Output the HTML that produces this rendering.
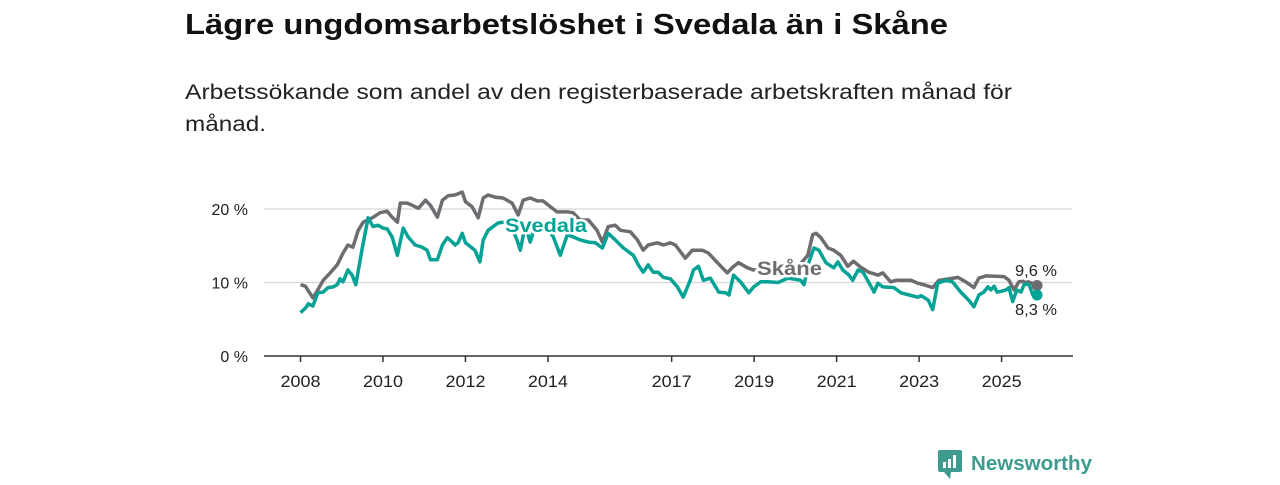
<!DOCTYPE html>
<html><head><meta charset="utf-8"><style>
body{margin:0;background:#fff;width:1280px;height:480px;overflow:hidden;font-family:"Liberation Sans",sans-serif}
</style></head><body>
<svg width="1280" height="480" font-family="Liberation Sans, sans-serif">
<text x="185" y="34" font-size="29" font-weight="bold" fill="#111" textLength="763" lengthAdjust="spacingAndGlyphs">Lägre ungdomsarbetslöshet i Svedala än i Skåne</text>
<text x="185" y="99" font-size="21" fill="#222" textLength="827" lengthAdjust="spacingAndGlyphs">Arbetssökande som andel av den registerbaserade arbetskraften månad för</text>
<text x="185" y="131" font-size="21" fill="#222" textLength="81" lengthAdjust="spacingAndGlyphs">månad.</text>
<g id="grid"></g><g id="series"></g><g id="labels"></g>
<g>
<rect x="938" y="450" width="24" height="22" rx="2" fill="#3d9c8f"/>
<path d="M944 472 L950 479 L951 472 Z" fill="#3d9c8f"/>
<rect x="943" y="462" width="3" height="6" fill="#fff"/><rect x="948" y="459" width="3" height="9" fill="#fff"/><rect x="953" y="455" width="3" height="13" fill="#fff"/>
<text x="971" y="470" font-size="20.5" font-weight="bold" fill="#3d9c8f" textLength="121" lengthAdjust="spacingAndGlyphs">Newsworthy</text>
</g>
</svg>
<script>
const yTicks=[0,10,20];
const xTicks=[2008,2010,2012,2014,2017,2019,2021,2023,2025];
const skaneDates=[2008.00,2008.12,2008.30,2008.42,2008.55,2008.72,2008.89,2009.03,2009.15,2009.27,2009.40,2009.52,2009.74,2009.93,2010.10,2010.22,2010.35,2010.42,2010.59,2010.71,2010.86,2011.03,2011.15,2011.32,2011.44,2011.58,2011.75,2011.92,2012.00,2012.16,2012.31,2012.43,2012.55,2012.72,2012.91,2013.13,2013.28,2013.40,2013.57,2013.74,2013.88,2014.06,2014.22,2014.47,2014.61,2014.78,2014.98,2015.19,2015.32,2015.46,2015.63,2015.76,2016.00,2016.17,2016.31,2016.43,2016.65,2016.80,2016.97,2017.09,2017.33,2017.50,2017.74,2017.89,2018.11,2018.35,2018.48,2018.62,2018.84,2018.98,2019.28,2019.64,2020.01,2020.30,2020.42,2020.50,2020.62,2020.79,2020.93,2021.10,2021.27,2021.41,2021.58,2021.78,2022.00,2022.12,2022.31,2022.44,2022.80,2022.97,2023.11,2023.33,2023.48,2023.84,2023.94,2024.13,2024.33,2024.45,2024.62,2025.06,2025.18,2025.30,2025.42,2025.60,2025.86];
const skaneValues=[9.7,9.5,7.9,9.0,10.3,11.3,12.4,14.0,15.1,14.8,17.1,18.2,18.8,19.5,19.7,18.9,18.2,20.8,20.8,20.5,20.1,21.2,20.5,18.9,21.2,21.8,21.9,22.3,21.0,20.3,18.8,21.5,21.9,21.6,21.5,20.8,19.2,21.2,21.5,21.1,21.1,20.3,19.6,19.6,19.5,18.5,18.5,17.1,15.5,17.6,17.8,17.1,16.9,15.8,14.4,15.1,15.4,15.1,15.4,15.1,13.3,14.4,14.4,14.0,12.7,11.3,12.1,12.7,12.0,11.7,11.8,11.9,11.8,13.7,16.5,16.7,16.1,14.7,14.4,13.7,12.2,12.9,12.1,11.4,11.0,11.3,10.1,10.3,10.3,9.9,9.7,9.3,10.3,10.6,10.7,10.1,9.3,10.6,10.9,10.8,10.3,9.0,10.1,10.2,9.6];
const svedalaDates=[2008.00,2008.12,2008.19,2008.30,2008.42,2008.55,2008.67,2008.79,2008.89,2008.96,2009.03,2009.15,2009.25,2009.34,2009.49,2009.64,2009.76,2009.88,2010.00,2010.10,2010.22,2010.35,2010.49,2010.61,2010.78,2010.95,2011.07,2011.15,2011.32,2011.44,2011.56,2011.68,2011.75,2011.82,2011.92,2012.00,2012.16,2012.23,2012.35,2012.43,2012.55,2012.67,2012.79,2012.91,2013.08,2013.25,2013.33,2013.45,2013.57,2013.69,2013.93,2014.13,2014.30,2014.47,2014.61,2014.78,2014.98,2015.15,2015.32,2015.46,2015.63,2015.83,2016.07,2016.19,2016.31,2016.43,2016.55,2016.67,2016.80,2016.97,2017.14,2017.28,2017.45,2017.53,2017.65,2017.77,2017.94,2018.14,2018.31,2018.39,2018.50,2018.67,2018.87,2018.99,2019.16,2019.33,2019.58,2019.82,2020.13,2020.21,2020.33,2020.45,2020.57,2020.74,2020.93,2021.03,2021.15,2021.30,2021.39,2021.52,2021.64,2021.79,2021.91,2022.00,2022.12,2022.39,2022.56,2022.76,2022.97,2023.05,2023.22,2023.33,2023.45,2023.64,2023.81,2024.01,2024.20,2024.33,2024.45,2024.57,2024.67,2024.74,2024.82,2024.89,2024.99,2025.11,2025.18,2025.27,2025.37,2025.47,2025.55,2025.67,2025.75,2025.86];
const svedalaValues=[5.9,6.5,7.1,6.8,8.6,8.7,9.3,9.4,9.7,10.5,10.1,11.7,11.0,9.7,14.4,18.8,17.6,17.8,17.4,17.3,16.2,13.7,17.4,16.2,15.1,14.8,14.4,13.1,13.1,15.1,16.1,15.5,15.1,15.4,16.7,15.4,14.7,14.4,12.8,15.8,17.1,17.6,18.1,18.2,18.0,15.8,14.4,17.8,15.5,17.8,17.8,16.2,13.7,16.5,16.2,15.8,15.5,15.4,14.7,16.7,15.8,14.7,13.7,12.4,11.4,12.4,11.4,11.4,10.7,10.5,9.4,8.0,10.3,11.7,12.2,10.3,10.6,8.7,8.6,8.3,11.0,10.1,8.6,9.4,10.1,10.1,10.0,10.6,10.3,9.7,12.8,14.7,14.4,12.7,12.0,12.8,11.7,11.0,10.3,11.7,11.4,9.9,8.7,9.9,9.4,9.3,8.6,8.3,8.0,8.2,7.6,6.3,9.9,10.3,10.1,8.7,7.6,6.7,8.3,8.7,9.4,9.0,9.5,8.7,8.8,9.0,9.3,7.4,9.0,8.7,9.8,9.7,8.4,8.3];
const NS="http://www.w3.org/2000/svg";
const xS=d=>300.5+(d-2008)*41.24;
const yS=v=>356-v*7.35;
function mk(t,a,p){const e=document.createElementNS(NS,t);for(const k in a)e.setAttribute(k,a[k]);p.appendChild(e);return e;}
const grid=document.getElementById('grid');
yTicks.forEach(v=>{
 if(v>0){const l=mk('line',{x1:264,x2:1072,y1:yS(v),y2:yS(v),stroke:'#d6d6d6','stroke-width':1.3},grid);
 
 }
 const t=mk('text',{x:248,y:yS(v)+6,'text-anchor':'end','font-size':16,fill:'#222'},grid);
 t.textContent=v+' %';
 
 
});
const ax=mk('line',{x1:264,x2:1073,y1:356,y2:356,stroke:'#333','stroke-width':1.5},grid);


xTicks.forEach(y=>{
 const x=xS(y);
 const tk=mk('line',{x1:x,x2:x,y1:356,y2:362,stroke:'#333','stroke-width':1.5},grid);
 
 
 const t=mk('text',{x:x,y:387,'text-anchor':'middle','font-size':16.5,fill:'#222',textLength:40,lengthAdjust:'spacingAndGlyphs'},grid);
 t.textContent=y;
 
 
});
const ser=document.getElementById('series');
function line(ds,vs,col,name){
 const d=ds.map((x,i)=>(i?'L':'M')+xS(x).toFixed(1)+' '+yS(vs[i]).toFixed(1)).join(' ');
 const p=mk('path',{d:d,fill:'none',stroke:col,'stroke-width':3.5,'stroke-linejoin':'round'},ser);
 
 
}
line(skaneDates,skaneValues,'#6e6c71','skane-line');
line(svedalaDates,svedalaValues,'#05a296','svedala-line');
const lab=document.getElementById('labels');
function dot(ds,vs,col,name){
 const n=ds.length-1;
 const c=mk('circle',{cx:xS(ds[n]),cy:yS(vs[n]),r:5.5,fill:col},lab);
 
 
}
dot(skaneDates,skaneValues,'#6e6c71','skane-end-dot');
dot(svedalaDates,svedalaValues,'#05a296','svedala-end-dot');
function txt(x,y,s,col,fs,w,name,halo,len){
 const a={x:x,y:y,'font-size':fs,'font-weight':w};
 if(len){a.textLength=len;a.lengthAdjust='spacingAndGlyphs';}
 if(halo){const h=mk('text',Object.assign({fill:'none',stroke:'#fff','stroke-width':5,'stroke-linejoin':'round'},a),lab);h.textContent=s;}
 const t=mk('text',Object.assign({fill:col},a),lab);
 t.textContent=s;
 
 
}
txt(505,232,'Svedala','#05a296',19,'bold','svedala-label',true,82);
txt(757,275,'Skåne','#6e6c71',19,'bold','skane-label',true,65);
const nS=skaneValues.length-1,nV=svedalaValues.length-1;
txt(1015,276,String(skaneValues[nS]).replace('.',',')+' %','#222',16,'normal','skane-end-value',true,42);
txt(1015,315,String(svedalaValues[nV]).replace('.',',')+' %','#222',16,'normal','svedala-end-value',true,42);
</script>
</body></html>
